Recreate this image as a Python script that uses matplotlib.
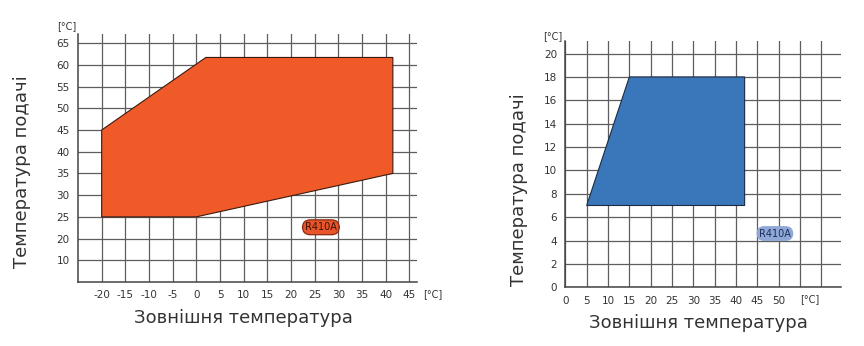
import matplotlib.pyplot as plt
from matplotlib.patches import Polygon

plt.rcParams["axes.unicode_minus"] = False

# heating envelope (outdoor temp vs flow temp), R410A
heat_outdoor = [-20, -20, 2, 41.5, 41.5, 0]
heat_flow = [25, 45, 61.7, 61.7, 35, 25]
heat_xticks = [-20, -15, -10, -5, 0, 5, 10, 15, 20, 25, 30, 35, 40, 45]
heat_yticks = [15, 20, 25, 30, 35, 40, 45, 50, 55, 60, 65]
heat_ylabels = ["10", "20", "25", "30", "35", "40", "45", "50", "55", "60", "65"]

# cooling envelope
cool_outdoor = [5, 15, 42, 42]
cool_flow = [7, 18, 18, 7]
cool_xticks = [0, 5, 10, 15, 20, 25, 30, 35, 40, 45, 50, 55, 60]
cool_xlabels = ["0", "5", "10", "15", "20", "25", "30", "35", "40", "45", "50", "", ""]
cool_yticks = [0, 2, 4, 6, 8, 10, 12, 14, 16, 18, 20]

grid_c = "#5e5e5e"
text_c = "#333333"
ylabel = "Температура подачі"
xlabel = "Зовнішня температура"
unit = "[°C]"

fig = plt.figure(figsize=(8.64, 3.46), dpi=100)
W, H = 864, 346


def px_axes(x0, y0, x1, y1):
    # axes from pixel box (top-left origin)
    return fig.add_axes([x0 / W, 1 - y1 / H, (x1 - x0) / W, (y1 - y0) / H])


def style(ax):
    ax.grid(True, color=grid_c, lw=0.9)
    ax.set_axisbelow(True)
    for s in ["top", "right"]:
        ax.spines[s].set_visible(False)
    for s in ["left", "bottom"]:
        ax.spines[s].set_color("#444444")
        ax.spines[s].set_linewidth(1.1)
    ax.tick_params(length=0, labelsize=7.5, labelcolor=text_c, pad=6)


# left: heating
ax1 = px_axes(78, 34, 417, 282)
ax1.set_xlim(-25, 46.6)
ax1.set_ylim(10, 67.1)
ax1.set_xticks(heat_xticks)
ax1.set_yticks(heat_yticks, heat_ylabels)
style(ax1)
ax1.add_patch(Polygon(list(zip(heat_outdoor, heat_flow)), closed=True,
                      facecolor="#F05A28", edgecolor="#3a1a10", lw=0.8, zorder=3))
ax1.text(26.3, 22.6, "R410A", fontsize=7, color="#3a1208", ha="center", va="center",
         zorder=4, bbox=dict(boxstyle="round,pad=0.25,rounding_size=0.8",
                             fc="#E8552A", ec="#8B2A10", lw=0.9))

# right: cooling
ax2 = px_axes(565.3, 40.7, 840.7, 287.3)
ax2.set_xlim(0, 64.5)
ax2.set_ylim(0, 21.1)
ax2.set_xticks(cool_xticks, cool_xlabels)
ax2.set_yticks(cool_yticks)
style(ax2)
ax2.add_patch(Polygon(list(zip(cool_outdoor, cool_flow)), closed=True,
                      facecolor="#3A77BA", edgecolor="#1c2a40", lw=0.8, zorder=3))
ax2.text(49.1, 4.6, "R410A", fontsize=7, color="#1e2e55", ha="center", va="center",
         zorder=4, bbox=dict(boxstyle="round,pad=0.25,rounding_size=0.8",
                             fc="#8FA8D8", ec="none"))

# units
fig.text(67 / W, 1 - 26 / H, unit, fontsize=7, color=text_c, ha="center", va="center")
fig.text(433 / W, 1 - 294 / H, unit, fontsize=7, color=text_c, ha="center", va="center")
fig.text(553 / W, 1 - 36 / H, unit, fontsize=7, color=text_c, ha="center", va="center")
fig.text(810 / W, 1 - 299 / H, unit, fontsize=7, color=text_c, ha="center", va="center")

# axis titles
fig.text(243 / W, 1 - 318 / H, xlabel, fontsize=13, color=text_c, ha="center", va="center")
fig.text(22 / W, 1 - 172 / H, ylabel, fontsize=13, color=text_c, ha="center", va="center",
         rotation=90)
fig.text(698 / W, 1 - 323 / H, xlabel, fontsize=13, color=text_c, ha="center", va="center")
fig.text(519 / W, 1 - 190 / H, ylabel, fontsize=13, color=text_c, ha="center", va="center",
         rotation=90)

fig.savefig("out.png", dpi=100)
